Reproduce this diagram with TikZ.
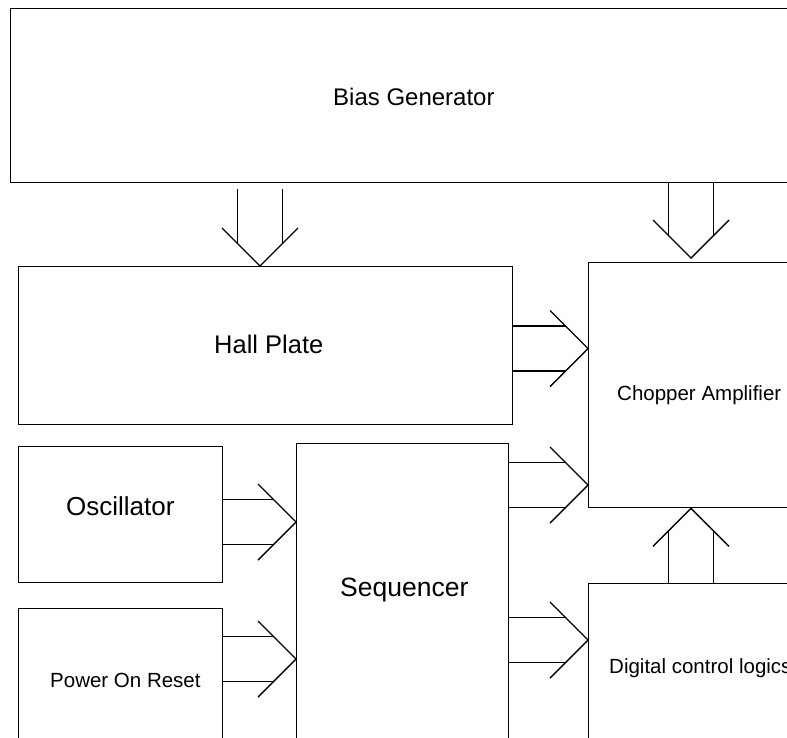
\documentclass[tikz,border=0pt]{standalone}
\usepackage{fontspec}
\setmainfont{Liberation Sans}
\usetikzlibrary{calc}
\tikzset{
  box/.style={draw, line width=1.4pt, rectangle, inner sep=0pt, anchor=north west},
  lbl/.style={anchor=base west, inner sep=0pt},
  conn/.style={line width=1.4pt},
  shaft/.style={conn, shorten >=22.5pt},
}
\newcommand\fs[1]{\fontsize{#1}{#1}\selectfont}
\begin{document}
\begin{tikzpicture}[x=1pt,y=-1pt]
\useasboundingbox (0,0) rectangle (787,737);
\clip (0,0) rectangle (787,737);
\fill[white] (0,0) rectangle (787,737);
% boxes
\node[box, minimum width=810pt, minimum height=174pt] (bias) at (10,8) {};
\node[box, minimum width=494pt, minimum height=158pt] (hall) at (18,266) {};
\node[box, minimum width=230pt, minimum height=245pt] (chop) at (588,262) {};
\node[box, minimum width=204pt, minimum height=136pt] (osc) at (18,446) {};
\node[box, minimum width=204pt, minimum height=160pt] (por) at (18,608) {};
\node[box, minimum width=212pt, minimum height=320pt] (seq) at (296,443) {};
\node[box, minimum width=230pt, minimum height=180pt] (dig) at (588,583) {};
% labels
\node[lbl] (tbias) at (333,105) {\fs{24}Bias Generator};
\node[lbl] (thall) at (214,353) {\fs{25.5}Hall Plate};
\node[lbl] (tosc) at (66,515) {\fs{26}Oscillator};
\node[lbl] (tseq) at (340,596) {\fs{26.5}Sequencer};
\node[lbl] (tpor) at (50,687) {\fs{20.5}Power On Reset};
\node[lbl] (tchop) at (617,400) {\fs{20.5}Chopper Amplifier};
\node[lbl] (tdig) at (609,673) {\fs{20.5}Digital control logics};
% Bias -> Hall (down)
\draw[shaft, shorten <=6pt] (bias.south -| 237.5,0) -- (hall.north -| 237.5,0);
\draw[shaft, shorten <=6pt] (bias.south -| 282.5,0) -- (hall.north -| 282.5,0);
\coordinate (t1) at (hall.north -| 260,0);
\draw[conn] ($(t1)+(-38,-38)$) -- (t1) -- ($(t1)+(38,-38)$);
% Bias -> Chopper (down)
\coordinate (t2) at ($(chop.north -| 691,0)+(0,-4)$);
\draw[shaft] (bias.south -| 668.5,0) -- (t2 -| 668.5,0);
\draw[shaft] (bias.south -| 713.5,0) -- (t2 -| 713.5,0);
\draw[conn] ($(t2)+(-38,-38)$) -- (t2) -- ($(t2)+(38,-38)$);
% Hall -> Chopper (right)
\coordinate (t3) at (chop.west |- 0,348.5);
\draw[shaft] (hall.east |- 0,326) -- (chop.west |- 0,326);
\draw[shaft] (hall.east |- 0,371) -- (chop.west |- 0,371);
\draw[conn] ($(t3)+(-38,-38)$) -- (t3) -- ($(t3)+(-38,38)$);
% Sequencer -> Chopper (right)
\coordinate (t4) at (chop.west |- 0,485);
\draw[shaft] (seq.east |- 0,462.5) -- (chop.west |- 0,462.5);
\draw[shaft] (seq.east |- 0,507.5) -- (chop.west |- 0,507.5);
\draw[conn] ($(t4)+(-38,-38)$) -- (t4) -- ($(t4)+(-38,38)$);
% Oscillator -> Sequencer (right)
\coordinate (t5) at (seq.west |- 0,522);
\draw[shaft] (osc.east |- 0,499.5) -- (seq.west |- 0,499.5);
\draw[shaft] (osc.east |- 0,544.5) -- (seq.west |- 0,544.5);
\draw[conn] ($(t5)+(-38,-38)$) -- (t5) -- ($(t5)+(-38,38)$);
% Power On Reset -> Sequencer (right)
\coordinate (t6) at (seq.west |- 0,659);
\draw[shaft] (por.east |- 0,636.5) -- (seq.west |- 0,636.5);
\draw[shaft] (por.east |- 0,681.5) -- (seq.west |- 0,681.5);
\draw[conn] ($(t6)+(-38,-38)$) -- (t6) -- ($(t6)+(-38,38)$);
% Sequencer -> Digital (right)
\coordinate (t7) at (dig.west |- 0,640);
\draw[shaft] (seq.east |- 0,617.5) -- (dig.west |- 0,617.5);
\draw[shaft] (seq.east |- 0,662.5) -- (dig.west |- 0,662.5);
\draw[conn] ($(t7)+(-38,-38)$) -- (t7) -- ($(t7)+(-38,38)$);
% Digital -> Chopper (up)
\coordinate (t8) at (chop.south -| 691,0);
\draw[shaft] (dig.north -| 668.5,0) -- (chop.south -| 668.5,0);
\draw[shaft] (dig.north -| 713.5,0) -- (chop.south -| 713.5,0);
\draw[conn] ($(t8)+(-38,38)$) -- (t8) -- ($(t8)+(38,38)$);
\end{tikzpicture}
\end{document}
